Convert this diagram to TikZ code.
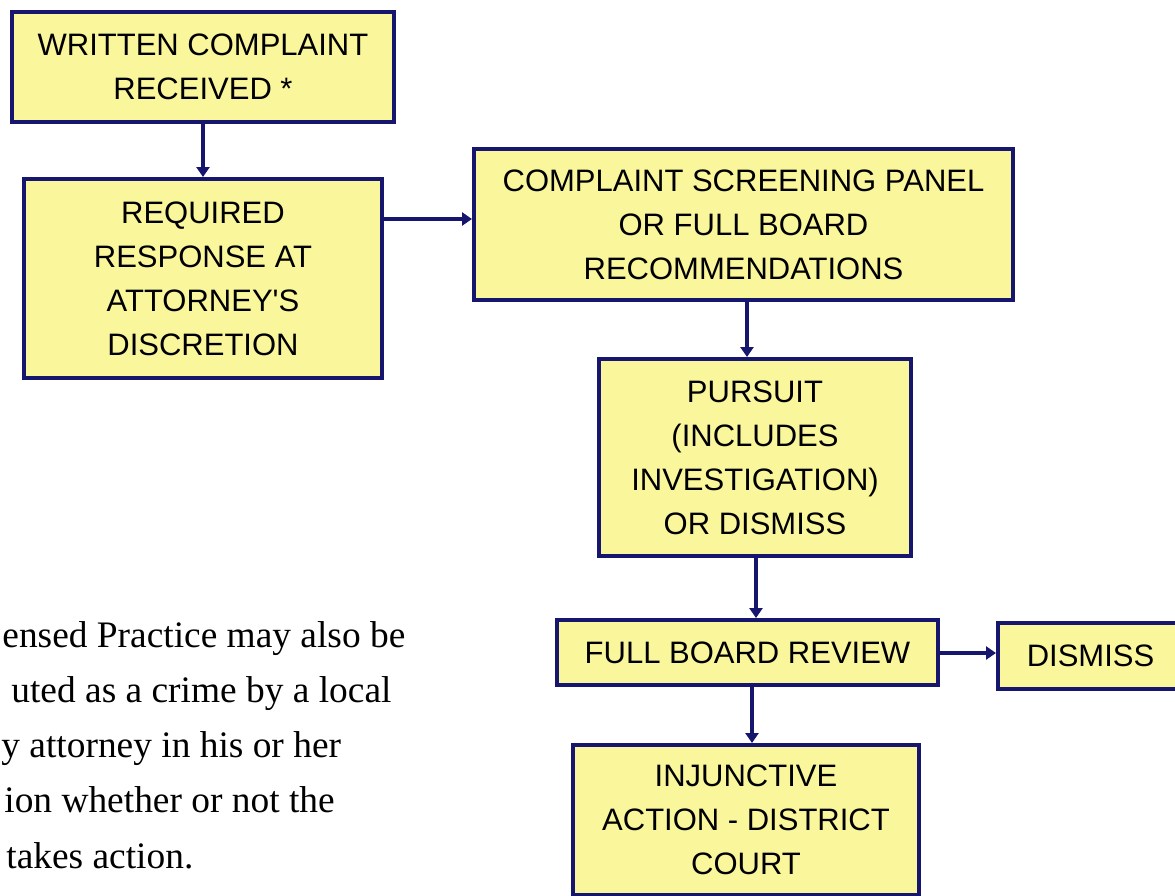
\documentclass[tikz,border=0pt]{standalone}
\usepackage{fontspec}
\setmainfont{Liberation Serif}
\newfontfamily\boxfont{Liberation Sans}
\usetikzlibrary{arrows.meta}
\definecolor{navy}{HTML}{16166E}
\definecolor{boxyellow}{HTML}{FAF69C}
\begin{document}
\begin{tikzpicture}[x=0.5pt,y=-0.5pt,
  flowbox/.style={draw=navy, line width=2pt, fill=boxyellow, inner sep=0pt, align=center,
    font=\boxfont\fontsize{15.5}{22}\selectfont},
  flow/.style={draw=navy, line width=1.8pt, -{Triangle[length=5pt,width=6.5pt]}},
  note/.style={anchor=base west, inner sep=0pt, font=\fontsize{18.7}{27}\selectfont}]
\useasboundingbox (0,0) rectangle (1175,896);
\fill[white] (0,0) rectangle (1175,896);

\node[flowbox, minimum width=191pt, minimum height=55pt] (b1) at (203,67)
  {WRITTEN COMPLAINT\\RECEIVED *};
\node[flowbox, minimum width=179pt, minimum height=99.5pt] (b2) at (203,278.5)
  {REQUIRED\\RESPONSE AT\\ATTORNEY'S\\DISCRETION};
\node[flowbox, minimum width=269.5pt, minimum height=75.5pt] (b3) at (743.5,224.5)
  {COMPLAINT SCREENING PANEL\\OR FULL BOARD\\RECOMMENDATIONS};
\node[flowbox, minimum width=156pt, minimum height=98.5pt] (b4) at (755,457.5)
  {PURSUIT\\(INCLUDES\\INVESTIGATION)\\OR DISMISS};
\node[flowbox, minimum width=190.5pt, minimum height=32.5pt] (b5) at (747.5,652.5)
  {FULL BOARD REVIEW};
\node[flowbox, minimum width=92.5pt, minimum height=33pt] (b6) at (1090.5,656)
  {DISMISS};
\node[flowbox, minimum width=173pt, minimum height=75pt] (b7) at (746,820)
  {INJUNCTIVE\\ACTION - DISTRICT\\COURT};

\coordinate (a23) at (0,219);
\coordinate (a34) at (747,0);
\coordinate (a45) at (756,0);
\coordinate (a56) at (0,653);
\coordinate (a57) at (752,0);

\draw[flow] (b1) -- (b2);
\draw[flow] (b2.east |- a23) -- (b3.west |- a23);
\draw[flow] (a34 |- b3.south) -- (a34 |- b4.north);
\draw[flow] (a45 |- b4.south) -- (a45 |- b5.north);
\draw[flow] (b5.east |- a56) -- (b6.west |- a56);
\draw[flow] (a57 |- b5.south) -- (a57 |- b7.north);

\node[note] (t1) at (2,647) {ensed Practice may also be};
\node[note] (t2) at (11,702) {uted as a crime by a local};
\node[note] (t3) at (1,757) {y attorney in his or her};
\node[note] (t4) at (4,812) {ion whether or not the};
\node[note] (t5) at (6,868) {takes action.};
\end{tikzpicture}
\end{document}
